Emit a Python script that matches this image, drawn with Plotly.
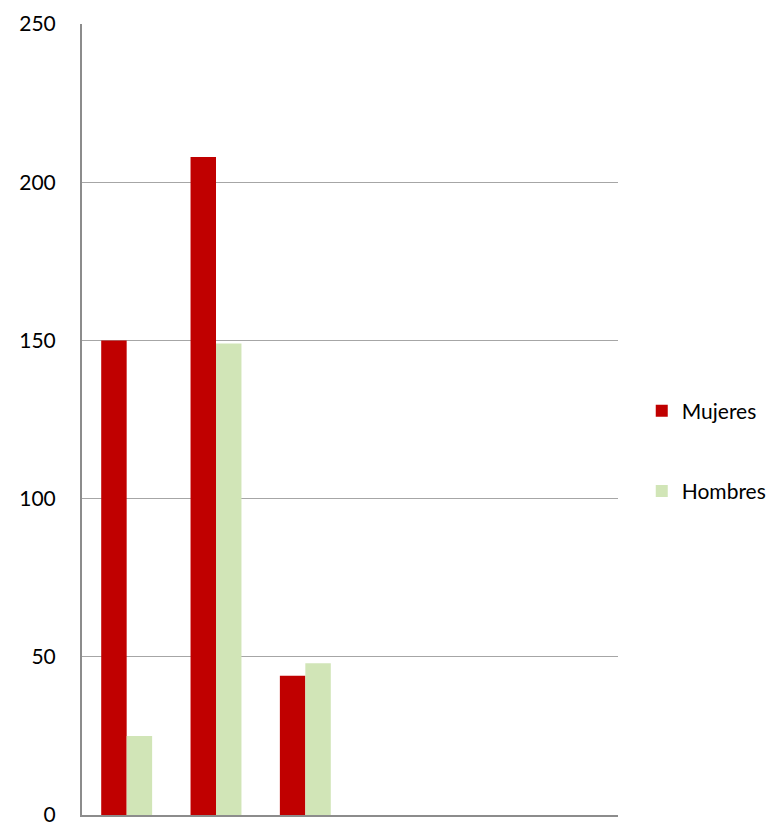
import plotly.graph_objects as go

categories = [1, 2, 3, 4, 5, 6]
mujeres = [150, 208, 44, None, None, None]
hombres = [25, 149, 48, None, None, None]
y_ticks = [0, 50, 100, 150, 200, 250]

fig = go.Figure()
fig.add_trace(go.Bar(x=categories, y=mujeres, name="Mujeres",
                     marker=dict(color="#C00000", line=dict(width=0)),
                     legendgroup="m"))
fig.add_trace(go.Bar(x=categories, y=hombres, name="Hombres",
                     marker=dict(color="#D1E5B7", line=dict(width=0)),
                     legendgroup="h"))

fig.update_layout(
    width=776, height=823,
    margin=dict(l=82, r=158, t=24, b=8, autoexpand=False),
    paper_bgcolor="white", plot_bgcolor="white",
    barmode="group", bargap=0.43, bargroupgap=0,
    font=dict(family="Lato, Open Sans, sans-serif", size=21, color="#000000"),
    legend=dict(xref="container", yref="container", x=0.827, y=0.452,
                xanchor="left", yanchor="middle",
                tracegroupgap=50, font=dict(size=21),
                itemwidth=30, traceorder="grouped"),
    xaxis=dict(range=[0.5, 6.5], showticklabels=False, showgrid=False,
               showline=True, linecolor="#8C8C8C", linewidth=2,
               ticks="", zeroline=False, fixedrange=True, automargin=False),
    yaxis=dict(range=[0, 250], tickvals=y_ticks, showgrid=True,
               gridcolor="#A6A6A6", gridwidth=1,
               showline=True, linecolor="#8C8C8C", linewidth=2,
               ticks="", ticklabelstandoff=20, ticklabeloverflow="allow",
               zeroline=False, automargin=False),
)

fig.write_html("out.html")
